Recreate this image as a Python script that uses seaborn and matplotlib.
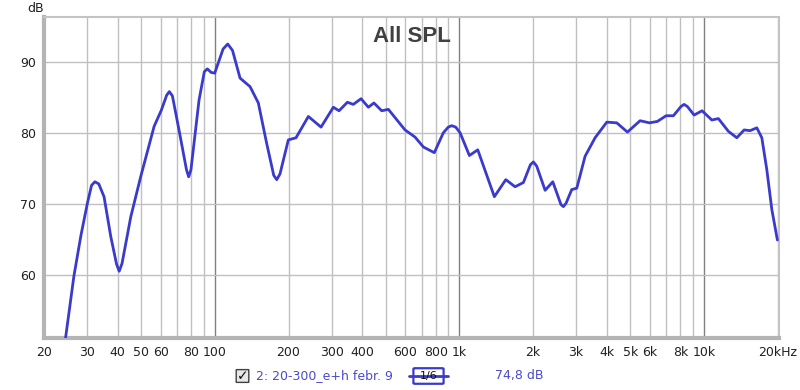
import numpy as np
import pandas as pd
import matplotlib
matplotlib.use("Agg")
import matplotlib.pyplot as plt
import seaborn as sns
from matplotlib.patches import FancyBboxPatch

# --- data (frequency in Hz, level in dB) ---
freq_hz = [24.0, 24.5, 26.5, 28.3, 30.1, 31.3, 32.3, 33.5, 35.2, 37.5, 39.6, 40.6, 41.7,
           45.3, 49.7, 56.4, 60.4, 63.5, 65.1, 67, 71.3, 76.5, 78.1, 79.8, 86.1, 90.5,
           93.1, 96.5, 99.8, 108, 112.8, 118, 126.7, 139.2, 150.5, 162.8, 174, 179, 184.5,
           199.6, 214.6, 241, 271.6, 305, 321.8, 348, 368, 396, 424, 447, 481, 512,
           599, 658, 712, 789, 859, 900, 930, 965, 1006, 1098, 1188, 1389, 1547, 1688, 1826,
           1950, 2006, 2070, 2240, 2408, 2600, 2660, 2730, 2878, 3018, 3264, 3586, 4004,
           4398, 4862, 5478, 5980, 6448, 6998, 7496, 8050, 8292, 8550, 9110, 9822, 10762,
           11454, 12586, 13620, 14590, 15438, 16442, 17236, 18066, 18938, 19960]
spl_db = [48.5, 51.1, 59.8, 65.5, 70.1, 72.6, 73.1, 72.8, 71.0, 65.4, 61.5, 60.5, 61.6,
          68.2, 73.8, 80.9, 83.2, 85.3, 85.8, 85.2, 80.4, 74.8, 73.8, 74.8, 84.6, 88.6,
          89.0, 88.5, 88.4, 91.8, 92.5, 91.6, 87.7, 86.5, 84.2, 78.5, 74.0, 73.4, 74.2,
          79.0, 79.3, 82.3, 80.8, 83.6, 83.1, 84.3, 84.0, 84.8, 83.6, 84.2, 83.1, 83.3,
          80.4, 79.4, 78.0, 77.2, 80.0, 80.8, 81.0, 80.8, 80.0, 76.8, 77.6, 71.0, 73.4, 72.4, 73.0,
          75.5, 75.9, 75.3, 71.9, 73.1, 69.9, 69.6, 70.1, 72.0, 72.2, 76.7, 79.3, 81.5,
          81.4, 80.1, 81.7, 81.4, 81.6, 82.4, 82.4, 83.7, 84.0, 83.7, 82.5, 83.1, 81.8,
          82.0, 80.2, 79.3, 80.4, 80.3, 80.7, 79.3, 74.8, 69.2, 64.9]

x_ticks = [20, 30, 40, 50, 60, 80, 100, 200, 300, 400, 600, 800,
           1000, 2000, 3000, 4000, 5000, 6000, 8000, 10000, 20000]
x_tick_labels = ["20", "30", "40", "50", "60", "80", "100", "200", "300", "400",
                 "600", "800", "1k", "2k", "3k", "4k", "5k", "6k", "8k", "10k", "20kHz"]
y_ticks = [60, 70, 80, 90]

df = pd.DataFrame({"freq": freq_hz, "spl": spl_db})

sns.set_style("white")
plt.rcParams["font.family"] = ["DejaVu Sans"]

fig = plt.figure(figsize=(8, 3.9), dpi=100)
ax = fig.add_axes([0.055, 0.1333, 0.919, 0.823])

# grid: 2..9 per decade light, decades darker
minor_lines = [m * 10 ** d for d in range(1, 5) for m in range(2, 10)]
for f in minor_lines:
    if 20 <= f <= 20000:
        ax.axvline(f, color="#c0c0c0", lw=1, zorder=0)
for f in [100, 1000, 10000]:
    ax.axvline(f, color="#808080", lw=1, zorder=0)
for y in y_ticks:
    ax.axhline(y, color="#c0c0c0", lw=1, zorder=0)

sns.lineplot(data=df, x="freq", y="spl", ax=ax, color="#3a3acc", lw=2, zorder=3)

ax.set_xscale("log")
ax.set_xlim(20, 20300)
ax.set_ylim(51.1, 96.3)
ax.set_xticks(x_ticks)
ax.set_xticklabels(x_tick_labels)
ax.minorticks_off()
ax.set_yticks(y_ticks)
ax.tick_params(axis="both", length=0, labelsize=9, colors="#202020", pad=6)
ax.set_xlabel("")
ax.set_ylabel("")

for side in ["left", "bottom"]:
    ax.spines[side].set_color("#b4b4b4")
    ax.spines[side].set_linewidth(3)
for side in ["top", "right"]:
    ax.spines[side].set_color("#c4c4c4")
    ax.spines[side].set_linewidth(1.5)

ax.text(0.5, 0.94, "All SPL", transform=ax.transAxes, ha="center", va="center",
        fontsize=16, fontweight="bold", color="#404040", family="Liberation Sans")
fig.text(27 / 800, 1 - 9 / 390, "dB", ha="left", va="center", fontsize=9, color="#202020")

# legend row at the bottom
fy = 1 - 376 / 390
fig.patches.append(FancyBboxPatch((237 / 800, fy - 6 / 390), 11 / 800, 12 / 390,
                                  boxstyle="round,pad=0.001", transform=fig.transFigure,
                                  facecolor="#e8e8e8", edgecolor="#404040", lw=1))
fig.text(242.5 / 800, fy, "\u2713", ha="center", va="center", fontsize=10,
         fontweight="bold", color="#101010")
fig.text(256 / 800, fy, "2: 20-300_e+h febr. 9", ha="left", va="center",
         fontsize=9, color="#4a4ad0")
fig.add_artist(plt.Line2D([409 / 800, 448 / 800], [fy, fy], transform=fig.transFigure,
                          color="#3a3acc", lw=2))
fig.patches.append(FancyBboxPatch((415 / 800, fy - 7 / 390), 27 / 800, 14 / 390,
                                  boxstyle="round,pad=0.002", transform=fig.transFigure,
                                  facecolor="white", edgecolor="#3a3acc", lw=1.6))
fig.text(428.5 / 800, fy, "1/6", ha="center", va="center", fontsize=8, color="#101010")
fig.text(495 / 800, fy, "74,8 dB", ha="left", va="center", fontsize=9, color="#4a4ad0")

fig.savefig("out.png", dpi=100, facecolor="white")
